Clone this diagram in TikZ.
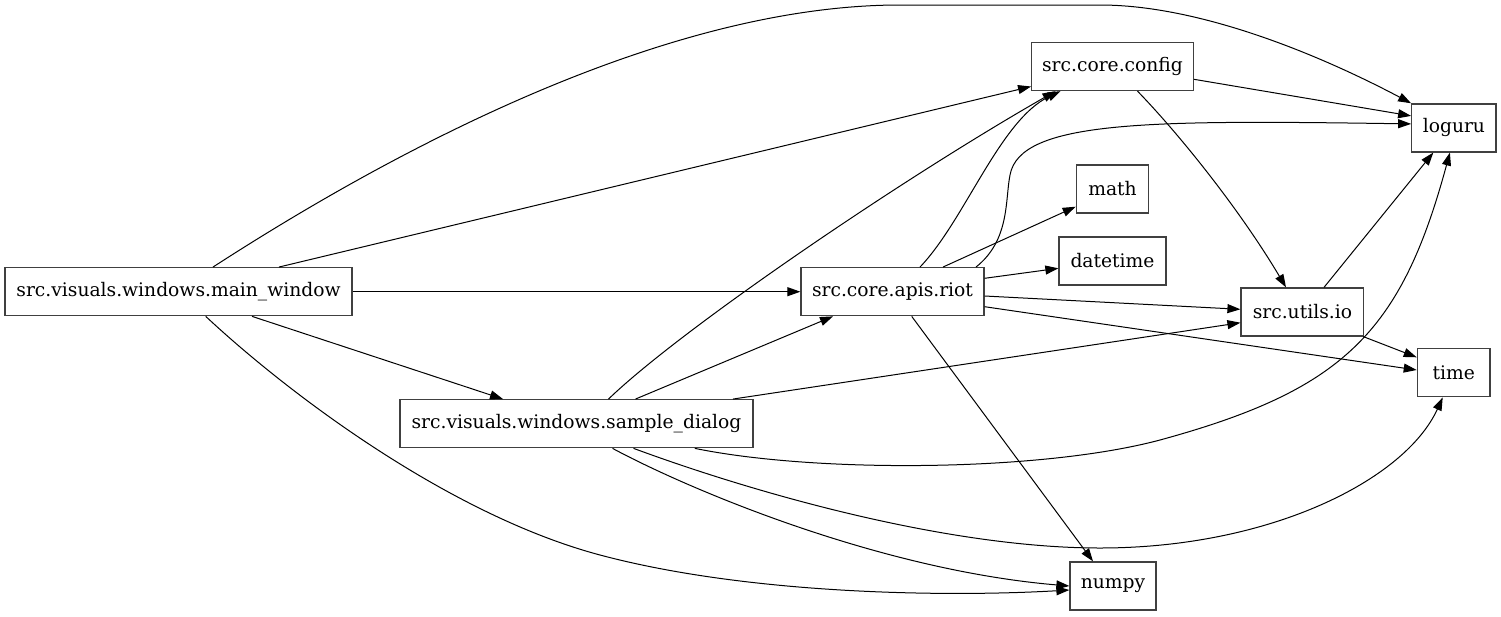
\documentclass[tikz,border=0pt]{standalone}
\usepackage{fontspec}
\setmainfont{DejaVu Serif}
\usetikzlibrary{arrows.meta}
\begin{document}
\begin{tikzpicture}[x=1pt,y=-1pt,
  box/.style={draw=black!75, line width=1.3pt, minimum height=48pt, inner sep=0pt, font=\fontsize{18.7}{22}\selectfont},
  edge/.style={-{Triangle[length=13pt,width=9pt]}, line width=1pt, black}]
\useasboundingbox (0,0) rectangle (1501,616);
\node[box,minimum width=347pt] (mw) at (178.5,291.7) {src.visuals.windows.main\_window};
\node[box,minimum width=353pt] (sd) at (576.5,423.7) {src.visuals.windows.sample\_dialog};
\node[box,minimum width=183pt] (riot) at (892.5,291.7) {src.core.apis.riot};
\node[box,minimum width=161.6pt] (config) at (1112.5,66.5) {src.core.config};
\node[box,minimum width=84.3pt] (loguru) at (1453.9,127.9) {loguru};
\node[box,minimum width=72.4pt] (math) at (1112.5,189) {math};
\node[box,minimum width=107pt] (datetime) at (1112.5,261) {datetime};
\node[box,minimum width=122.7pt] (io) at (1302.4,312) {src.utils.io};
\node[box,minimum width=72.7pt] (time) at (1453.7,372.8) {time};
\node[box,minimum width=86pt] (numpy) at (1113,586) {numpy};
% main_window
\draw[edge] ([xshift=34.5pt]mw.north) .. controls (363,170) and (650,5) .. (900,5) -- (1100,5) .. controls (1200,5) and (1320,55) .. (loguru.north west);
\draw[edge] ([xshift=100.5pt]mw.north) -- ([yshift=-20pt]config.west);
\draw[edge] (mw.east) -- (riot.west);
\draw[edge] ([xshift=73.5pt]mw.south) -- ([xshift=-73.5pt]sd.north);
\draw[edge] ([xshift=27.2pt]mw.south) .. controls (290,395) and (450,515) .. (600,555) .. controls (750,595) and (950,597) .. ([yshift=-4pt]numpy.west);
% sample_dialog
\draw[edge] ([xshift=32pt]sd.north) .. controls (680,330) and (900,180) .. ([xshift=-57pt]config.south);
\draw[edge] ([xshift=59pt]sd.north) -- ([xshift=-59.5pt]riot.south);
\draw[edge] ([xshift=156.5pt]sd.north) -- ([yshift=-10.7pt]io.west);
\draw[edge] ([xshift=118.3pt]sd.south) .. controls (814.6,473) and (1040,472) .. (1160,440) .. controls (1343,390) and (1401,333) .. ([xshift=-4pt]loguru.south);
\draw[edge] ([xshift=57pt]sd.south) .. controls (760,495) and (950,548) .. (1100,548) .. controls (1270,548) and (1405,480) .. ([xshift=-11pt]time.south);
\draw[edge] ([xshift=36pt]sd.south) .. controls (690,490) and (880,570) .. (numpy.west);
% riot
\draw[edge] ([xshift=27.5pt]riot.north) .. controls (965,220) and (1000,120) .. ([xshift=-52pt]config.south);
\draw[edge] ([xshift=83.5pt]riot.north) .. controls (1010,240) and (1005,200) .. (1010,175) .. controls (1020,120) and (1150,120) .. ([yshift=4pt]loguru.west);
\draw[edge] ([xshift=50.5pt]riot.north) -- ([yshift=-17.7pt]math.west);
\draw[edge] ([yshift=13.4pt]riot.east) -- ([yshift=-7.3pt]datetime.west);
\draw[edge] ([yshift=-4.3pt]riot.east) -- ([yshift=2.7pt]io.west);
\draw[edge] ([yshift=-15pt]riot.east) -- ([yshift=2.8pt]time.west);
\draw[edge] ([xshift=19.2pt]riot.south) -- ([xshift=-20pt]numpy.north);
% config
\draw[edge] ([yshift=-12.8pt]config.east) -- ([yshift=12pt]loguru.west);
\draw[edge] ([xshift=25pt]config.south) .. controls (1180,135) and (1240,210) .. ([xshift=-16.4pt]io.north);
% io
\draw[edge] ([xshift=21.6pt]io.north) -- ([xshift=-20.6pt]loguru.south);
\draw[edge] ([xshift=-1pt]io.south east) -- ([yshift=15.5pt]time.west);
\end{tikzpicture}
\end{document}
